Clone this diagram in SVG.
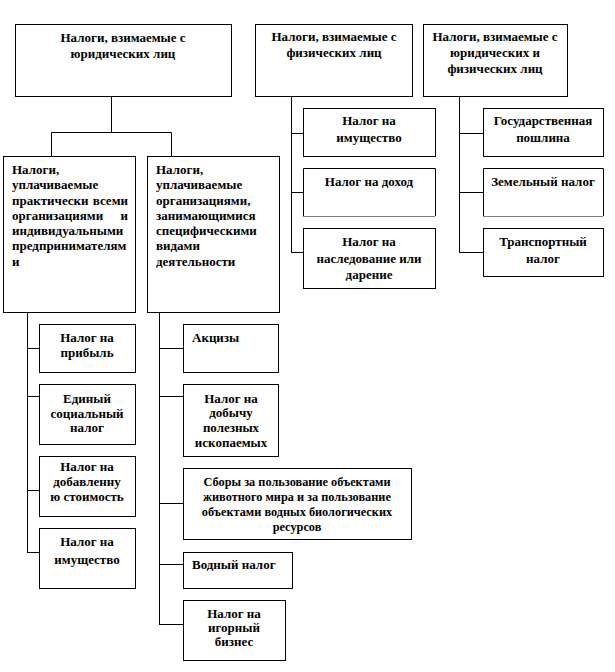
<svg xmlns="http://www.w3.org/2000/svg" width="615" height="672" viewBox="0 0 615 672">
<style>
rect{fill:#fff;stroke:#000;stroke-width:1}
text{font-family:"Liberation Serif","Times New Roman",serif;font-weight:bold;font-size:13px;fill:#000}
.s{font-size:12.3px}
.c{text-anchor:middle}
.e{text-anchor:end}
#connectors path{fill:none;stroke:#000;stroke-width:1}
</style>
<rect x="0" y="0" width="615" height="672" style="stroke:none"/>
<g id="connectors">
<path d="M111.5,96V132.5M51.5,156V132.5H171.5V156"/>
<path d="M291.5,96V252.5M291,133.5H303M291,192.5H303M291,252.5H303"/>
<path d="M459.5,96V252.5M459,133.5H483M459,192.5H483M459,252.5H483"/>
<path d="M27.5,312V552.5M27,348.5H39M27,396.5H39M27,490.5H39M27,552.5H39"/>
<path d="M159.5,312V624.5M159,348.5H183M159,396.5H183M159,503.5H183M159,564.5H183M159,624.5H183"/>
</g>
<g id="n-jur">
<rect x="15.5" y="24.5" width="216" height="72"/>
<text class="c" x="123" y="42">Налоги, взимаемые с</text>
<text class="c" x="123" y="58">юридических лиц</text>
</g>
<g id="n-fiz">
<rect x="255.5" y="24.5" width="157" height="72"/>
<text class="c" x="334" y="41">Налоги, взимаемые с</text>
<text class="c" x="334" y="57">физических лиц</text>
</g>
<g id="n-jurfiz">
<rect x="423.5" y="24.5" width="144" height="72"/>
<text class="c" x="495" y="41">Налоги, взимаемые с</text>
<text class="c" x="495" y="57">юридических и</text>
<text class="c" x="495" y="73">физических лиц</text>
</g>
<g id="n-all">
<rect x="3.5" y="156.5" width="132" height="156"/>
<text x="12" y="174">Налоги,</text>
<text x="12" y="189.3">уплачиваемые</text>
<text x="12" y="204.5">практически</text><text class="e" x="128" y="204.5">всеми</text>
<text x="12" y="219.8">организациями</text><text class="e" x="128" y="219.8">и</text>
<text x="12" y="235">индивидуальными</text>
<text x="12" y="250.3">предпринимателям</text>
<text x="12" y="265.5">и</text>
</g>
<g id="n-spec">
<rect x="147.5" y="156.5" width="132" height="156"/>
<text x="156" y="174">Налоги,</text>
<text x="156" y="189.3">уплачиваемые</text>
<text x="156" y="204.5">организациями,</text>
<text x="156" y="219.8">занимающимися</text>
<text x="156" y="235">специфическими</text>
<text x="156" y="250.3">видами</text>
<text x="156" y="265.5">деятельности</text>
</g>
<g id="n-f1">
<rect x="303.5" y="108.5" width="132" height="48"/>
<text class="c" x="369" y="125">Налог на</text>
<text class="c" x="369" y="142">имущество</text>
</g>
<g id="n-f2">
<path d="M303.5,216V168.5H435.5V216" fill="#fff" stroke="#000"/>
<path d="M303.5,216.5H435.5" stroke="#000" stroke-dasharray="1 1"/>
<text class="c" x="369" y="186">Налог на доход</text>
</g>
<g id="n-f3">
<rect x="303.5" y="228.5" width="132" height="60"/>
<text class="c" x="369" y="246">Налог на</text>
<text class="c" x="369" y="262.5">наследование или</text>
<text class="c" x="369" y="278.5">дарение</text>
</g>
<g id="n-jf1">
<rect x="483.5" y="108.5" width="120" height="48"/>
<text class="c" x="543" y="125">Государственная</text>
<text class="c" x="543" y="142">пошлина</text>
</g>
<g id="n-jf2">
<path d="M483.5,216V168.5H603.5V216" fill="#fff" stroke="#000"/>
<path d="M483.5,216.5H603.5" stroke="#000" stroke-dasharray="1 1"/>
<text class="c" x="543" y="186">Земельный налог</text>
</g>
<g id="n-jf3">
<rect x="483.5" y="228.5" width="120" height="48"/>
<text class="c" x="543" y="246">Транспортный</text>
<text class="c" x="543" y="263">налог</text>
</g>
<g id="n-a1">
<rect x="39.5" y="324.5" width="96" height="48"/>
<text class="c" x="87" y="342">Налог на</text>
<text class="c" x="87" y="357">прибыль</text>
</g>
<g id="n-a2">
<rect x="39.5" y="384.5" width="96" height="60"/>
<text class="c" x="87" y="403">Единый</text>
<text class="c" x="87" y="417.5">социальный</text>
<text class="c" x="87" y="432">налог</text>
</g>
<g id="n-a3">
<rect x="39.5" y="456.5" width="96" height="60"/>
<text class="c" x="87" y="471">Налог на</text>
<text class="c" x="87" y="485.5">добавленну</text>
<text class="c" x="87" y="500.5">ю стоимость</text>
</g>
<g id="n-a4">
<rect x="39.5" y="528.5" width="96" height="60"/>
<text class="c" x="87" y="546">Налог на</text>
<text class="c" x="87" y="563.5">имущество</text>
</g>
<g id="n-b1">
<rect x="183.5" y="324.5" width="95" height="48"/>
<text x="192" y="342">Акцизы</text>
</g>
<g id="n-b2">
<rect x="183.5" y="384.5" width="95" height="72"/>
<text class="c" x="231" y="403">Налог на</text>
<text class="c" x="231" y="417">добычу</text>
<text class="c" x="231" y="431.5">полезных</text>
<text class="c" x="231" y="447">ископаемых</text>
</g>
<g id="n-b3">
<rect x="183.5" y="468.5" width="228" height="71"/>
<text class="c s" x="297" y="486">Сборы за пользование объектами</text>
<text class="c s" x="297" y="501">животного мира и за пользование</text>
<text class="c s" x="297" y="516">объектами водных биологических</text>
<text class="c s" x="297" y="531">ресурсов</text>
</g>
<g id="n-b4">
<rect x="183.5" y="552.5" width="109" height="36"/>
<text x="192" y="569">Водный налог</text>
</g>
<g id="n-b5">
<rect x="183.5" y="600.5" width="102" height="60"/>
<text class="c" x="234" y="618">Налог на</text>
<text class="c" x="234" y="631.5">игорный</text>
<text class="c" x="234" y="645.5">бизнес</text>
</g>
</svg>
